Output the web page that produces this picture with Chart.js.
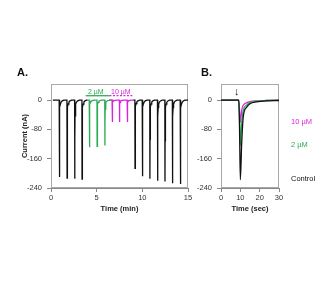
<!DOCTYPE html>
<html><head><meta charset="utf-8">
<script src="https://cdn.jsdelivr.net/npm/chart.js@4.4.1/dist/chart.umd.min.js"></script>
<style>
body{margin:0;background:#fff;width:332px;height:284px;position:relative;overflow:hidden;font-family:"Liberation Sans",Arial,sans-serif}
canvas{position:absolute}
.t{position:absolute;white-space:nowrap;line-height:1}
</style></head><body>
<canvas id="a" width="182" height="155" style="left:18px;top:60px;width:182px;height:155px"></canvas>
<canvas id="b" width="95" height="155" style="left:190px;top:60px;width:95px;height:155px"></canvas>
<div class="t" style="left:17px;top:67px;font-weight:bold;font-size:11px;color:#111">A.</div>
<div class="t" style="left:201px;top:67px;font-weight:bold;font-size:11px;color:#111">B.</div>
<div class="t" style="left:88px;top:88px;font-size:7px;color:#2eaa55">2 µM</div>
<div class="t" style="left:111px;top:88px;font-size:7px;color:#dd22dd">10 µM</div>
<div class="t" style="left:234px;top:86px;font-size:11px;font-weight:bold;color:#222">↓</div>
<div class="t" style="left:291px;top:118px;font-size:7.5px;color:#dd22dd">10 µM</div>
<div class="t" style="left:291px;top:141px;font-size:7.5px;color:#2eaa55">2 µM</div>
<div class="t" style="left:291px;top:175px;font-size:7.5px;color:#111">Control</div>
<script>
// ---- Panel A data (time in min, current in nA) ----
const controlTimes = [0.91, 1.76, 2.6, 3.4];
const controlPeaks = [-210, -213, -215, -216];
const uM2Times = [4.2, 5.05, 5.9];
const uM2Peaks = [-129, -126, -124];
const uM10Times = [6.7, 7.5, 8.35];
const uM10Peaks = [-60, -60, -60];
const washTimes = [9.2, 10.0, 10.83, 11.67, 12.48, 13.3, 14.16];
const washPeaks = [-186, -208, -215, -220, -222, -227, -229];
const shapeOffsets = [-0.015, 0, 0.012, 0.03, 0.07, 0.12, 0.2, 0.32, 0.5];
const shapeFractions = [0, 1, 0.5, 0.2, 0.09, 0.05, 0.025, 0.01, 0];
// segment boundaries of the trace (min)
const segmentBounds = [[0.2, 4.0], [4.0, 6.35], [6.35, 9.0], [9.0, 15.0]];
// drug application bars
const bar2uM = [[3.8, 12], [6.4, 12]];
const bar10uM = [[6.4, 12], [8.9, 12]];
const yTicks = [-240, -160, -80, 0];
const xTicksA = [0, 5, 10, 15];

// ---- Panel B data (time in sec, current in nA) ----
const bTime = [0, 9.2, 9.6, 10, 10.7, 11.5, 13.3, 15, 18.4, 23.6, 30];
const bControl = [0, 0, -80, -217, -118, -46, -19, -10, -5, -2, -1];
const b2uM = [0, 0, -50, -124, -62, -28, -13, -7, -3, -1, 0];
const b10uM = [0, 0, -28, -60, -28, -14, -7, -4, -2, -1, 0];
const xTicksB = [0, 10, 20, 30];

const BLACK = '#111', GREEN = '#2eaa55', MAG = '#dd22dd';
Chart.defaults.font.family = '"Liberation Sans", Arial, sans-serif';
Chart.defaults.color = '#333';

function trace(bounds, times, peaks) {
  const pts = [{x: bounds[0], y: 0}];
  times.forEach((t, i) => {
    shapeOffsets.forEach((o, j) => pts.push({x: t + o, y: peaks[i] * shapeFractions[j]}));
  });
  pts.push({x: bounds[1], y: 0});
  return pts;
}
const frame = {id: 'frame', beforeDatasetsDraw(c) {
  const a = c.chartArea, x = c.ctx; x.save(); x.strokeStyle = '#a8a8a8'; x.lineWidth = 1;
  x.strokeRect(Math.round(a.left) + 0.5, Math.round(a.top) + 0.5, Math.round(a.right - a.left) - 1, Math.round(a.bottom - a.top) - 1);
  x.restore(); }};

function scales(xmin, xmax, xt, xtitle, ywidth, ytitle) {
  return {
    x: {type: 'linear', min: xmin, max: xmax,
      afterBuildTicks: s => { s.ticks = xt.map(v => ({value: v})); },
      afterFit: s => { s.height = 27; },
      grid: {drawOnChartArea: false, tickLength: 4, color: '#888'}, border: {color: '#888'},
      ticks: {font: {size: 7.5}, color: '#333', padding: 1, maxRotation: 0},
      title: {display: true, text: xtitle, font: {size: 7.5, weight: 'bold'}, color: '#222', padding: {top: 2, bottom: 2}}},
    y: {type: 'linear', min: -240, max: 44,
      afterBuildTicks: s => { s.ticks = yTicks.map(v => ({value: v})); },
      afterFit: s => { s.width = ywidth; },
      grid: {drawOnChartArea: false, tickLength: 4, color: '#888'}, border: {color: '#888'},
      ticks: {font: {size: 7.5}, color: '#333', padding: 5},
      title: {display: !!ytitle, text: ytitle || '', font: {size: 7.5, weight: 'bold'}, color: '#222', padding: {top: 2, bottom: 2}}}
  };
}
const ds = (data, color, extra) => Object.assign({data, borderColor: color, borderWidth: 1.3, pointRadius: 0, tension: 0, fill: false}, extra || {});

new Chart(document.getElementById('a'), {
  type: 'line',
  data: {datasets: [
    ds(trace(segmentBounds[0], controlTimes, controlPeaks), BLACK),
    ds(trace(segmentBounds[1], uM2Times, uM2Peaks), GREEN),
    ds(trace(segmentBounds[2], uM10Times, uM10Peaks), MAG),
    ds(trace(segmentBounds[3], washTimes, washPeaks), BLACK),
    ds(bar2uM.map(p => ({x: p[0], y: p[1]})), GREEN),
    ds(bar10uM.map(p => ({x: p[0], y: p[1]})), MAG, {borderDash: [2, 1.5]})
  ]},
  options: {responsive: false, animation: false, devicePixelRatio: 1,
    layout: {padding: {top: 24, right: 12, left: 0, bottom: 0}},
    plugins: {legend: {display: false}, tooltip: {enabled: false}},
    scales: scales(0, 15, xTicksA, 'Time (min)', 33, 'Current (nA)')},
  plugins: [frame]
});

new Chart(document.getElementById('b'), {
  type: 'line',
  data: {datasets: [
    ds(bTime.map((t, i) => ({x: t, y: bControl[i]})), BLACK, {cubicInterpolationMode: 'monotone'}),
    ds(bTime.map((t, i) => ({x: t, y: b2uM[i]})), GREEN, {cubicInterpolationMode: 'monotone'}),
    ds(bTime.map((t, i) => ({x: t, y: b10uM[i]})), MAG, {cubicInterpolationMode: 'monotone'})
  ]},
  options: {responsive: false, animation: false, devicePixelRatio: 1,
    layout: {padding: {top: 24, right: 6, left: 0, bottom: 0}},
    plugins: {legend: {display: false}, tooltip: {enabled: false}},
    scales: scales(0, 30, xTicksB, 'Time (sec)', 31, '')},
  plugins: [frame]
});
</script>
</body></html>
